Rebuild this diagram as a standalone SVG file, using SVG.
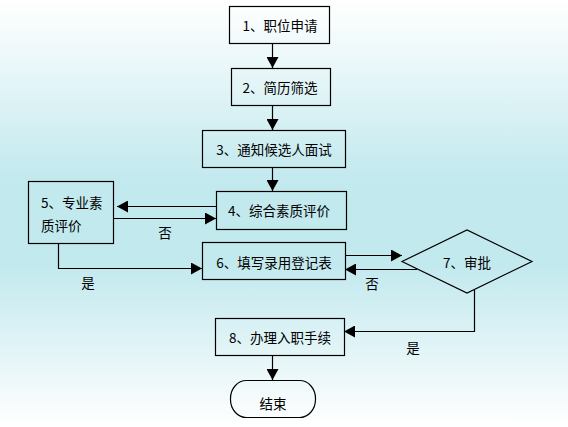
<svg xmlns="http://www.w3.org/2000/svg" width="568" height="427" viewBox="0 0 568 427">
<defs>
<linearGradient id="bg" x1="0" y1="0" x2="0" y2="1">
<stop offset="0" stop-color="#ffffff"/>
<stop offset="0.08" stop-color="#f4fbfc"/>
<stop offset="0.42" stop-color="#c2e9ee"/>
<stop offset="0.62" stop-color="#c2e9ee"/>
<stop offset="0.95" stop-color="#f7fcfd"/>
<stop offset="1" stop-color="#ffffff"/>
</linearGradient>
<marker id="ah" markerUnits="userSpaceOnUse" markerWidth="12" markerHeight="12" refX="11" refY="6" orient="auto">
<path d="M0,0 L11,6 L0,12 Z" fill="#000"/>
</marker>
</defs>
<style>
.box{fill:none;stroke:#000;stroke-width:1.2}
.ln{fill:none;stroke:#000;stroke-width:1.2;marker-end:url(#ah)}
text{font-family:"Noto Sans CJK SC","Noto Sans CJK JP",sans-serif;font-size:13.5px;fill:#000}
.c{text-anchor:middle;dominant-baseline:central}
.l{dominant-baseline:central}
</style>
<rect width="568" height="427" fill="url(#bg)"/>
<g id="connectors">
<path class="ln" d="M272.5,43 V68"/>
<path class="ln" d="M272.5,106 V130"/>
<path class="ln" d="M272.5,167 V191"/>
<path class="ln" d="M216,206.5 H117"/>
<path class="ln" d="M113,218.5 H216"/>
<path class="ln" d="M58.5,243 V268.5 H202"/>
<path class="ln" d="M345,255.5 H402"/>
<path class="ln" d="M417,269.5 H345"/>
<path class="ln" d="M474.5,290 V331.5 H344"/>
<path class="ln" d="M272.5,355 V380"/>
</g>
<g id="n1"><rect class="box" x="229.5" y="6.5" width="100" height="37"/><text class="c" x="280" y="25">1、职位申请</text></g>
<g id="n2"><rect class="box" x="231.5" y="68.5" width="99" height="37"/><text class="c" x="280" y="87">2、简历筛选</text></g>
<g id="n3"><rect class="box" x="202.5" y="130.5" width="143" height="37"/><text class="c" x="274" y="149">3、通知候选人面试</text></g>
<g id="n4"><rect class="box" x="216.5" y="191.5" width="130" height="38"/><text class="c" x="279" y="210">4、综合素质评价</text></g>
<g id="n5"><rect class="box" x="28.5" y="181.5" width="85" height="62"/><text class="l" x="41" y="202">5、专业素</text><text class="l" x="41" y="225">质评价</text></g>
<g id="n6"><rect class="box" x="202.5" y="242.5" width="143" height="37"/><text class="c" x="274" y="262">6、填写录用登记表</text></g>
<g id="n7"><path class="box" d="M402,261.5 L467,230 L532,261.5 L467,293 Z"/><text class="c" x="467" y="262">7、审批</text></g>
<g id="n8"><rect class="box" x="215.5" y="318.5" width="129" height="37"/><text class="c" x="280" y="337">8、办理入职手续</text></g>
<g id="end"><rect class="box" x="230.5" y="380.5" width="85" height="37" rx="16" ry="18"/><text class="c" x="273" y="403">结束</text></g>
<g id="labels">
<text class="c" x="165" y="232">否</text>
<text class="c" x="88" y="282">是</text>
<text class="c" x="372" y="283">否</text>
<text class="c" x="413" y="347">是</text>
</g>
</svg>
